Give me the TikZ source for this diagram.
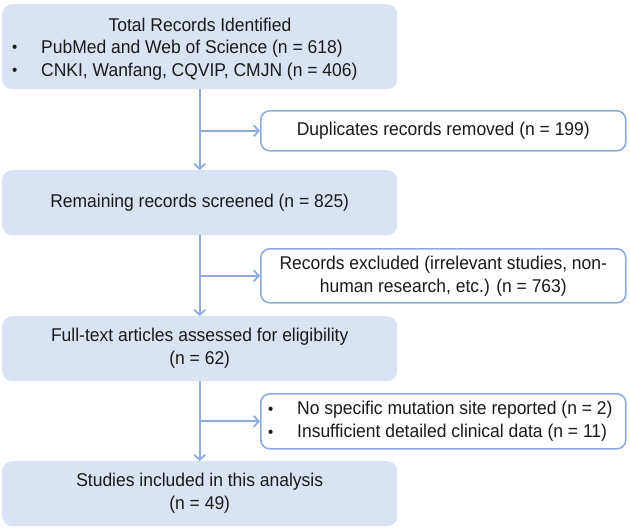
\documentclass[tikz,border=0pt]{standalone}
\usepackage{fontspec}
\setmainfont[FakeStretch=0.945]{Liberation Sans}
\usetikzlibrary{arrows.meta}
\definecolor{boxfill}{HTML}{DAE3F3}
\definecolor{lineblue}{HTML}{8FAADC}
\definecolor{txt}{HTML}{1A1A1A}
\tikzset{
  base/.style={font=\fontsize{18.5}{23}\selectfont, text=txt},
  mainbox/.style={base, fill=boxfill, draw=none, rounded corners=10pt, anchor=north west, inner sep=0pt, minimum width=395pt},
  sidebox/.style={base, fill=white, draw=lineblue, line width=1.6pt, rounded corners=9pt, anchor=north west, inner sep=0pt, minimum width=365pt},
  lbl/.style={base, inner sep=0pt, align=center},
  conn/.style={draw=lineblue, line width=1.8pt, -{Straight Barb[length=5pt,width=11pt,line width=1.8pt]}}
}
\newcommand{\bul}{\makebox[29pt][l]{\raisebox{0.3pt}{\scalebox{0.85}{\textbullet}}}}
\begin{document}
\begin{tikzpicture}[x=1pt,y=-1pt]
\useasboundingbox (0,0) rectangle (630,531);
% main boxes
\node[mainbox, minimum height=85pt] (b1) at (2,4) {};
\node[mainbox, minimum height=65pt] (b2) at (2,170) {};
\node[mainbox, minimum height=65pt] (b3) at (2,316) {};
\node[mainbox, minimum height=65pt] (b4) at (2,461) {};
% side boxes
\node[sidebox, minimum height=40pt] (s1) at (260,110) {};
\node[sidebox, minimum height=54pt] (s2) at (260,248) {};
\node[sidebox, minimum height=55pt] (s3) at (260,393) {};
% texts
\node[lbl] (t1) at (200,25) {Total Records Identified};
\node[base, inner sep=0pt, anchor=west, align=left] (t1b) at (12,60) {\bul PubMed and Web of Science (n = 618)\\ \bul CNKI, Wanfang, CQVIP, CMJN (n = 406)};
\node[lbl] (t2) at (b2.center) {Remaining records screened (n = 825)};
\node[lbl] (t3) at (b3.center) {Full-text articles assessed for eligibility\\(n = 62)};
\node[lbl] (t4) at (b4.center) {Studies included in this analysis\\(n = 49)};
\node[lbl] (ts1) at (s1.center) {Duplicates records removed (n = 199)};
\node[lbl] (ts2) at (s2.center) {Records excluded (irrelevant studies, non-\\human research, etc.) (n = 763)};
\node[base, inner sep=0pt, anchor=west, align=left] (ts3) at (268,421.5) {\bul No specific mutation site reported (n = 2)\\ \bul Insufficient detailed clinical data (n = 11)};
% connectors
\draw[conn] (b1.south) -- (b2.north);
\draw[conn] (b2.south) -- (b3.north);
\draw[conn] (b3.south) -- (b4.north);
\draw[conn] (s1.west -| b1.south) -- (s1.west);
\draw[conn] (s2.west -| b2.south) -- (s2.west);
\draw[conn] (s3.west -| b3.south) -- (s3.west);
\end{tikzpicture}
\end{document}
